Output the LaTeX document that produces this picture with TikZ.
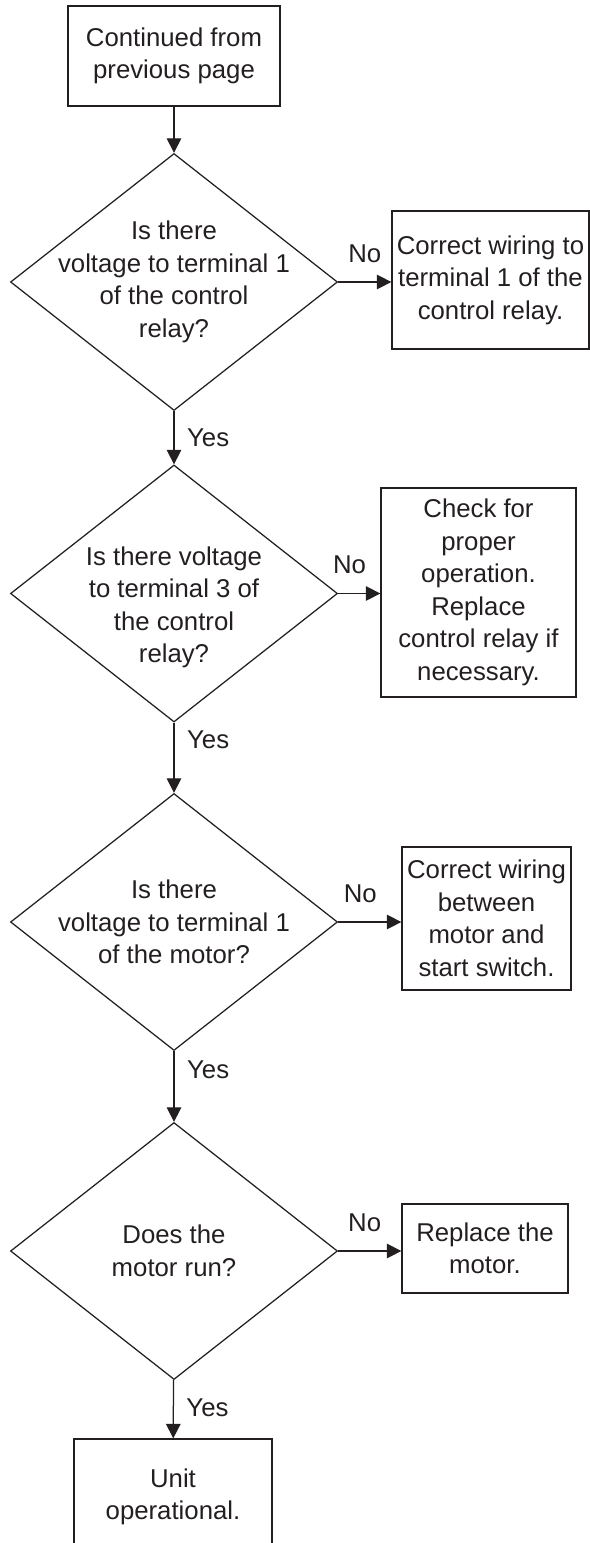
\documentclass[tikz,border=0pt]{standalone}
\usepackage{fontspec}
\setmainfont{Liberation Sans}
\usepackage{xcolor}
\usepackage{tikz}
\usetikzlibrary{positioning, arrows.meta, shapes.geometric}
\definecolor{ink}{HTML}{231F20}
\tikzset{
  txt/.style={text=ink, font=\fontsize{10.3}{13}\selectfont, align=center},
  stepbox/.style={txt, draw=ink, line width=0.5pt, rectangle, inner sep=0pt},
  ask/.style={draw=ink, line width=0.5pt, diamond, inner sep=0pt,
    minimum width=130.8pt, minimum height=102.8pt},
  flow/.style={draw=ink, line width=0.5pt, -{Triangle[length=5.8pt, width=5.8pt]}},
  tag/.style={txt, inner sep=0pt}
}

\begin{document}
\begin{tikzpicture}[x=0.4pt, y=-0.4pt]
  \useasboundingbox (0,0) rectangle (590,1543);
  \clip (0,0) rectangle (590,1543);
  % main column
  \node[stepbox, minimum width=84.8pt, minimum height=40pt] (prev) at (174,56) {Continued from\\previous page};
  \node[ask, label={[txt]center:{Is there\\voltage to terminal 1\\of the control\\relay?}}] (q1) at (174,282) {};
  \node[ask, label={[txt, yshift=-5.6pt]center:{Is there voltage\\to terminal 3 of\\the control\\relay?}}] (q2) at (174,593.5) {};
  \node[ask, label={[txt]center:{Is there\\voltage to terminal 1\\of the motor?}}] (q3) at (174,922) {};
  \node[ask, label={[txt]center:{Does the\\motor run?}}] (q4) at (174,1251) {};
  \node[stepbox, minimum width=79.2pt, minimum height=46.4pt] (done) at (173,1497) {Unit\\operational.};
  % fixes on the right
  \node[stepbox, minimum width=78.8pt, minimum height=55.2pt] (fix1) at (490.5,280) {Correct wiring to\\terminal 1 of the\\control relay.};
  \node[stepbox, minimum width=78pt, minimum height=83.6pt] (fix2) at (478.5,592.5) {Check for\\proper\\operation.\\Replace\\control relay if\\necessary.};
  \node[stepbox, minimum width=67.6pt, minimum height=57.2pt] (fix3) at (486.5,918.5) {Correct wiring\\between\\motor and\\start switch.};
  \node[stepbox, minimum width=66.4pt, minimum height=35.6pt] (fix4) at (485,1248.5) {Replace the\\motor.};

  % yes path
  \draw[flow] (prev) -- (q1);
  \draw[flow] (q1) -- node[tag, pos=.5, right=5pt] {Yes} (q2);
  \draw[flow] (q2) -- node[tag, pos=.25, right=5pt] {Yes} (q3);
  \draw[flow] (q3) -- node[tag, pos=.26, right=5pt] {Yes} (q4);
  \draw[flow] (q4) -- node[tag, pos=.48, right=5pt] {Yes} (done);
  % no path
  \draw[flow] (q1.east) -- node[tag, pos=.5, above=7.5pt] {No} (q1.east -| fix1.west);
  \draw[flow] (q2.east) -- node[tag, pos=.27, above=7.5pt] {No} (q2.east -| fix2.west);
  \draw[flow] (q3.east) -- node[tag, pos=.35, above=7.5pt] {No} (q3.east -| fix3.west);
  \draw[flow] (q4.east) -- node[tag, pos=.42, above=7.5pt] {No} (q4.east -| fix4.west);
\end{tikzpicture}
\end{document}
